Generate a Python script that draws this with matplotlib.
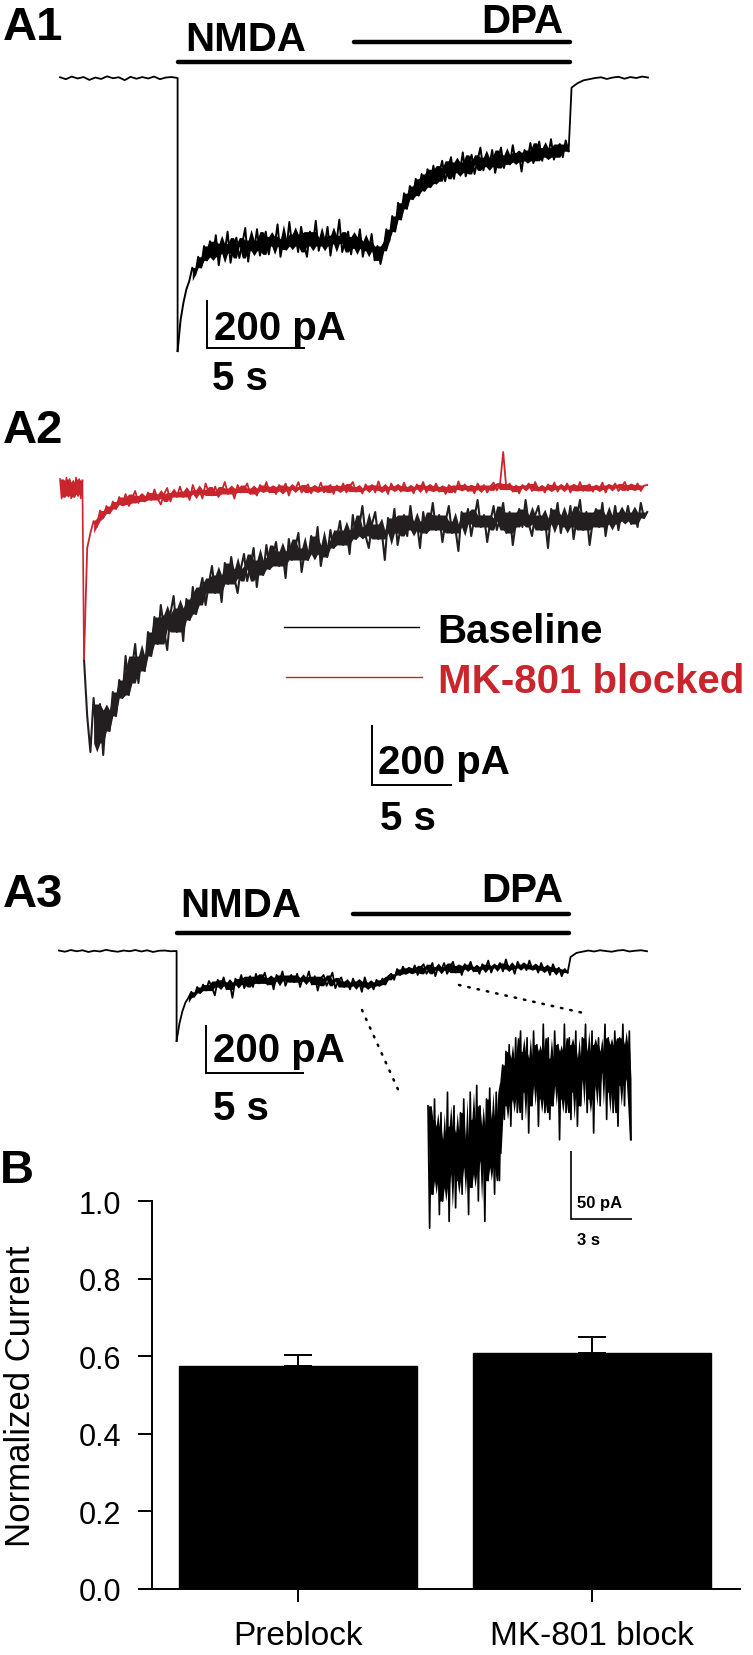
import numpy as np
import matplotlib
matplotlib.use('Agg')
import matplotlib.pyplot as plt

plt.rcParams['font.family'] = ['Liberation Sans', 'DejaVu Sans']

# ---- data (pA, s) ----
# A1: NMDA then NMDA + DPA
a1_pre = [3, -5, 6, -2, 4, -8, 2, -4, 7, -1, 3, -9, 5, -3, 4, -2, 6, -5, 2, 4, 0]  # dt 0.3 from 0 s
a1_on = [-1138, -1010, -935, -880, -845, -790, -820, -745, -790, -700,
         -760, -680, -745, -655, -780, -690, -730, -640, -770, -700,
         -665, -750, -690, -625, -765, -675, -720, -630, -740, -690,
         -640, -735, -660, -700, -610, -745, -670, -715, -600, -700,
         -650, -725, -620, -690, -745, -640, -700, -595, -720, -665,
         -700, -620, -740, -655, -690, -590, -725, -675, -640, -735,
         -660, -710, -630, -745, -680, -720, -650, -760, -700, -775,
         -720, -630, -680, -575, -640, -520, -590, -480, -545, -450,
         -505, -420, -490, -400, -470, -380, -455, -365, -440, -395,
         -345, -430, -375, -330, -420, -350, -395, -310, -410, -360,
         -320, -400, -345, -290, -385, -330, -370, -300, -395, -340,
         -290, -375, -320, -360, -280, -350, -310, -390, -300, -345,
         -270, -355, -310, -265, -345, -290, -330, -255, -340, -300,
         -275, -330, -260, -305]  # dt 0.15 from 6 s
a1_post = [-40, -22, -10, -5, 0, 3, -4, 2, 5, -3, 4, 0, 6, 2]  # dt 0.3 from 26.1 s

# A2: baseline vs MK-801 blocked
red_pre = [30, -35, 25, -30, 35, -25, 30, -35, 20, -30, 35, -20, 30, -35, 25]  # dt 0.1 from 0 s
red_main = [-570, -200, -150, -110, -130, -75, -100, -60, -85, -45,
            -70, -30, -55, -20, -60, -35, -10, -50, -25, -45,
            -15, -40, -5, -35, -55, -20, 0, -45, -15, -30,
            5, -30, -10, -40, 10, -20, -5, -35, 15, -15,
            -25, 5, -30, -10, 20, -20, 0, -35, 10, -15,
            -5, 15, -20, 0, -25, 10, -10, 20, -15, 5,
            -20, 10, -10, 15, -25, 5, -5, 20, -15, 0,
            12, -18, 5, -10, 18, -15, 0, 10, -20, 8,
            -8, 15, -15, 5, 20, -12, 0, -18, 12, -5,
            10, -15, 22, -8, 5, -20, 15, -5, 8, -12,
            18, -10, 5, -18, 12, -3, 20, -15, 8, -8,
            15, -12, 5, -20, 10, 0, -15, 22, -5, 12,
            -10, 8, -18, 15, -5, 10, -15, 5, 18, -8,
            12, 120, -5, 15, -12, 8, -18, 10, 0, 15,
            -10, 20, -8, 5, -15, 12, -5, 18, -12, 8,
            -3, 15, -15, 10, -8, 20, -10, 5, 12, -12,
            8, -5, 18, -15, 10, 0, 15, -10, 5, 20,
            -8, 12, -5, 15, -10, 8, 10]  # dt 0.2 from 1.5 s
black_main = [-570, -760, -880, -700, -850, -720, -890, -740, -810, -680,
              -760, -640, -700, -560, -690, -600, -520, -650, -560, -610,
              -480, -560, -430, -520, -390, -470, -540, -420, -360, -480,
              -400, -510, -370, -440, -330, -420, -350, -300, -390, -320,
              -260, -350, -290, -380, -250, -320, -230, -300, -350, -270,
              -220, -310, -260, -200, -330, -240, -290, -190, -270, -230,
              -180, -260, -210, -300, -170, -240, -200, -150, -280, -210,
              -240, -160, -220, -130, -260, -190, -230, -140, -200, -170,
              -110, -190, -140, -220, -90, -170, -130, -60, -160, -200,
              -120, -80, -170, -140, -240, -100, -150, -70, -190, -130,
              -90, -160, -60, -140, -110, -200, -80, -150, -120, -50,
              -140, -90, -180, -110, -60, -150, -130, -210, -80, -120,
              -70, -160, -100, -40, -130, -90, -180, -110, -60, -140,
              -100, -50, -150, -80, -190, -110, -70, -130, -40, -120,
              -160, -90, -60, -140, -100, -200, -70, -120, -50, -150,
              -90, -130, -60, -170, -100, -40, -140, -80, -190, -110,
              -70, -130, -50, -160, -90, -120, -60, -140, -80, -110,
              -60, -120, -80, -130, -50, -100, -80]  # dt 0.2 from 1.5 s

# A3: after MK-801 block
a3_pre = [2, -3, 4, -1, 3, -4, 1, -2, 5, 0, -3, 2, -1, 4, -2, 3, -4, 1, 2, -1, 0]
a3_on = [-375, -300, -250, -215, -195, -170, -190, -150, -175, -140,
         -165, -125, -150, -185, -120, -145, -110, -160, -130, -195,
         -115, -140, -100, -155, -125, -105, -150, -95, -135, -120,
         -90, -140, -110, -160, -100, -125, -85, -145, -115, -100,
         -130, -95, -150, -110, -125, -85, -140, -105, -165, -115,
         -100, -145, -120, -90, -155, -125, -110, -150, -130, -160,
         -115, -145, -125, -170, -110, -150, -130, -160, -120, -145,
         -115, -140, -105, -95, -120, -75, -100, -65, -95, -70,
         -90, -60, -100, -70, -55, -95, -75, -50, -105, -65,
         -80, -50, -95, -70, -45, -90, -60, -100, -55, -75,
         -45, -85, -65, -95, -55, -75, -40, -90, -60, -70,
         -50, -85, -35, -75, -60, -95, -45, -70, -55, -80,
         -40, -75, -60, -90, -50, -80, -65, -100, -55, -85,
         -70, -105, -75, -90]
a3_post = [-25, -8, -3, 2, -2, 3, 0, -3, 2, 4, -2, 1, 3, -1]

# A3 inset (expanded DPA onset), dt 0.08 s
inset_vals = [-5, -95, -15, -70, 0, -60, -20, -85, -10, -75,
              -30, -65, 5, -90, -20, -55, -5, -80, -25, -60,
              -10, -70, 0, -50, -30, -85, 5, -65, -15, -55,
              10, -75, -5, -45, -20, -90, 0, -60, 8, -50,
              -15, -70, 5, -40, -60, 12,
              25, -15, 35, -5, 40, -20, 30, 0, 45, -10,
              20, 50, -15, 35, 5, 45, -25, 30, -5, 50,
              10, 40, -20, 35, 0, 55, -10, 25, 45, -15,
              30, -5, 50, 10, 40, -30, 35, 0, 55, -10,
              25, 45, -15, 40, 5, 50, -20, 30, -5, 45,
              15, 55, -10, 35, 0, 50, -25, 40, 10, 45,
              -5, 35, 20, 55, -15, 45, 5, 40, -10, 50,
              20, -20, 45, 10, 55, -5, 40, 15, 50, -30]

nmda_on, nmda_off = 6.0, 26.0
dpa_on, dpa_off = 15.0, 26.0

# B: normalized current
groups = ['Preblock', 'MK-801 block']
norm_mean = [0.574, 0.607]
norm_sem = [0.028, 0.042]

RED = '#c9252c'

W, H = 753, 1656
fig = plt.figure(figsize=(W / 100, H / 100), dpi=100)


def px_axes(x0, y0, x1, y1):
    return fig.add_axes([x0 / W, 1 - y1 / H, (x1 - x0) / W, (y1 - y0) / H])


def trace_axes(y0, y1, xo, yo, pps, ppa):
    # xo, yo: pixel position of t=0, I=0; pps px per s; ppa px per pA
    ax = px_axes(0, y0, W, y1)
    ax.set_xlim((0 - xo) / pps, (W - xo) / pps)
    ax.set_ylim((yo - y1) / ppa, (yo - y0) / ppa)
    ax.axis('off')
    return ax


def label(x, y, s, size, color='black', weight='bold', ha='left'):
    fig.text(x / W, 1 - y / H, s, fontsize=size, fontweight=weight,
             color=color, ha=ha, va='baseline')


def scalebar(ax, t, i, dt, di, lw=1.4):
    ax.plot([t, t, t + dt], [i + di, i, i], color='black', lw=lw,
            solid_capstyle='butt', solid_joinstyle='miter')


def seg(start, dt, vals):
    return start + dt * np.arange(len(vals))


def noisy(ax, t, y, color, lw, skip=0):
    # sampled trace drawn as a line, with the dense core of the noise shaded
    # (2nd lowest .. 2nd highest of each 5-sample neighbourhood)
    y = np.asarray(y, dtype=float)
    ax.plot(t, y, color=color, lw=lw)
    win = np.sort(np.lib.stride_tricks.sliding_window_view(np.pad(y, 2, mode='edge'), 5), axis=1)
    ax.fill_between(t[skip:], win[skip:, 1], win[skip:, 3], color=color, lw=0)


# ---- A1 ----
ax1 = trace_axes(0, 400, 60, 79, 19.6, 0.24)
t_on1 = seg(6.0, 0.15, a1_on)
ax1.plot(np.concatenate([seg(0, 0.3, a1_pre), t_on1[:1]]), a1_pre + a1_on[:1], color='black', lw=1.3)
noisy(ax1, t_on1, a1_on, 'black', 1.4, skip=5)
ax1.plot(np.concatenate([t_on1[-1:], seg(26.1, 0.3, a1_post)]), a1_on[-1:] + a1_post, color='black', lw=1.3)
ax1.plot([nmda_on, nmda_off], [67, 67], color='black', lw=3.2, solid_capstyle='round')
ax1.plot([dpa_on, dpa_off], [150, 150], color='black', lw=3.2, solid_capstyle='round')
scalebar(ax1, 7.5, -1125, 5, 200)

# ---- A2 ----
ax2 = trace_axes(400, 850, 60, 489, 16.0, 0.3)
noisy(ax2, seg(1.5, 0.2, black_main), black_main, '#231f20', 1.5, skip=3)
t_rp = seg(0, 0.1, red_pre)
noisy(ax2, t_rp, red_pre, RED, 1.2)
ax2.plot([t_rp[-1], 1.5], [red_pre[-1], red_main[0]], color=RED, lw=1.2)
noisy(ax2, seg(1.5, 0.2, red_main), red_main, RED, 1.3, skip=3)
scalebar(ax2, 19.5, -990, 5, 200)

# ---- A3 ----
ax3 = trace_axes(850, 1140, 59, 952, 19.6, 0.24)
t_on3 = seg(6.0, 0.15, a3_on)
ax3.plot(np.concatenate([seg(0, 0.3, a3_pre), t_on3[:1]]), a3_pre + a3_on[:1], color='black', lw=1.3)
noisy(ax3, t_on3, a3_on, 'black', 1.3, skip=4)
ax3.plot(np.concatenate([t_on3[-1:], seg(26.1, 0.3, a3_post)]), a3_on[-1:] + a3_post, color='black', lw=1.3)
ax3.plot([nmda_on, nmda_off], [75, 75], color='black', lw=3.2, solid_capstyle='round')
ax3.plot([dpa_on, dpa_off], [154, 154], color='black', lw=3.2, solid_capstyle='round')
scalebar(ax3, 7.5, -508, 5, 200)

# ---- B ----
axb = px_axes(140, 1202, 740, 1590)
axb.patch.set_visible(False)
xpos = np.arange(len(groups))
axb.bar(xpos, norm_mean, width=0.81, color='black', edgecolor='black')
axb.errorbar(xpos, norm_mean, yerr=[[0] * len(groups), norm_sem], fmt='none',
             ecolor='black', elinewidth=1.4, capsize=10, capthick=1.4)
axb.set_xlim((140 - 298) / 294, (740 - 298) / 294)
axb.set_ylim(0, 1.0)
axb.spines['left'].set_position(('data', (152 - 298) / 294))
for s in ['top', 'right']:
    axb.spines[s].set_visible(False)
for s in ['left', 'bottom']:
    axb.spines[s].set_linewidth(1.4)
axb.set_yticks([0, 0.2, 0.4, 0.6, 0.8, 1.0])
axb.set_yticklabels(['0.0', '0.2', '0.4', '0.6', '0.8', '1.0'])
axb.set_xticks(xpos)
axb.set_xticklabels(groups)
axb.tick_params(axis='y', length=10, width=1.4, direction='out', labelsize=22, pad=12)
axb.tick_params(axis='x', length=9, width=1.4, direction='out', labelsize=24, pad=13)
axb.set_ylabel('Normalized Current', fontsize=25)
axb.yaxis.set_label_coords((37 - 140) / 600, 0.5)

# ---- inset ----
axi = trace_axes(1000, 1250, 428, 1100, 20.3, 1.36)
noisy(axi, seg(0, 0.08, inset_vals), inset_vals, 'black', 1.2)
scalebar(axi, 7.04, -88, 3, 50, lw=1.2)

# ---- overlay (legend samples, zoom connectors) ----
ov = px_axes(0, 0, W, H)
ov.set_xlim(0, W)
ov.set_ylim(H, 0)
ov.axis('off')
ov.plot([284, 419], [628, 628], color='black', lw=1.0)
ov.plot([286, 422], [678, 678], color=RED, lw=1.0)
ov.plot([362, 401], [1011, 1097], color='black', lw=1.8, linestyle=(0, (0.6, 3.2)), dash_capstyle='round')
ov.plot([459, 588], [986, 1015], color='black', lw=1.8, linestyle=(0, (0.6, 3.2)), dash_capstyle='round')

# ---- text ----
label(3, 40, 'A1', 34)
label(185, 51, 'NMDA', 29)
label(563, 33, 'DPA', 29, ha='right')
label(214, 340, '200 pA', 29)
label(212, 390, '5 s', 29)

label(3, 443, 'A2', 34)
label(437, 643, 'Baseline', 29)
label(438, 693, 'MK-801 blocked', 29, color=RED)
label(378, 774, '200 pA', 29)
label(380, 830, '5 s', 29)

label(3, 907, 'A3', 34)
label(180, 917, 'NMDA', 29)
label(563, 902, 'DPA', 29, ha='right')
label(213, 1062, '200 pA', 29)
label(213, 1120, '5 s', 29)
label(577, 1208, '50 pA', 12)
label(577, 1245, '3 s', 12)

label(0, 1183, 'B', 34)

fig.savefig('out.png', dpi=100)
